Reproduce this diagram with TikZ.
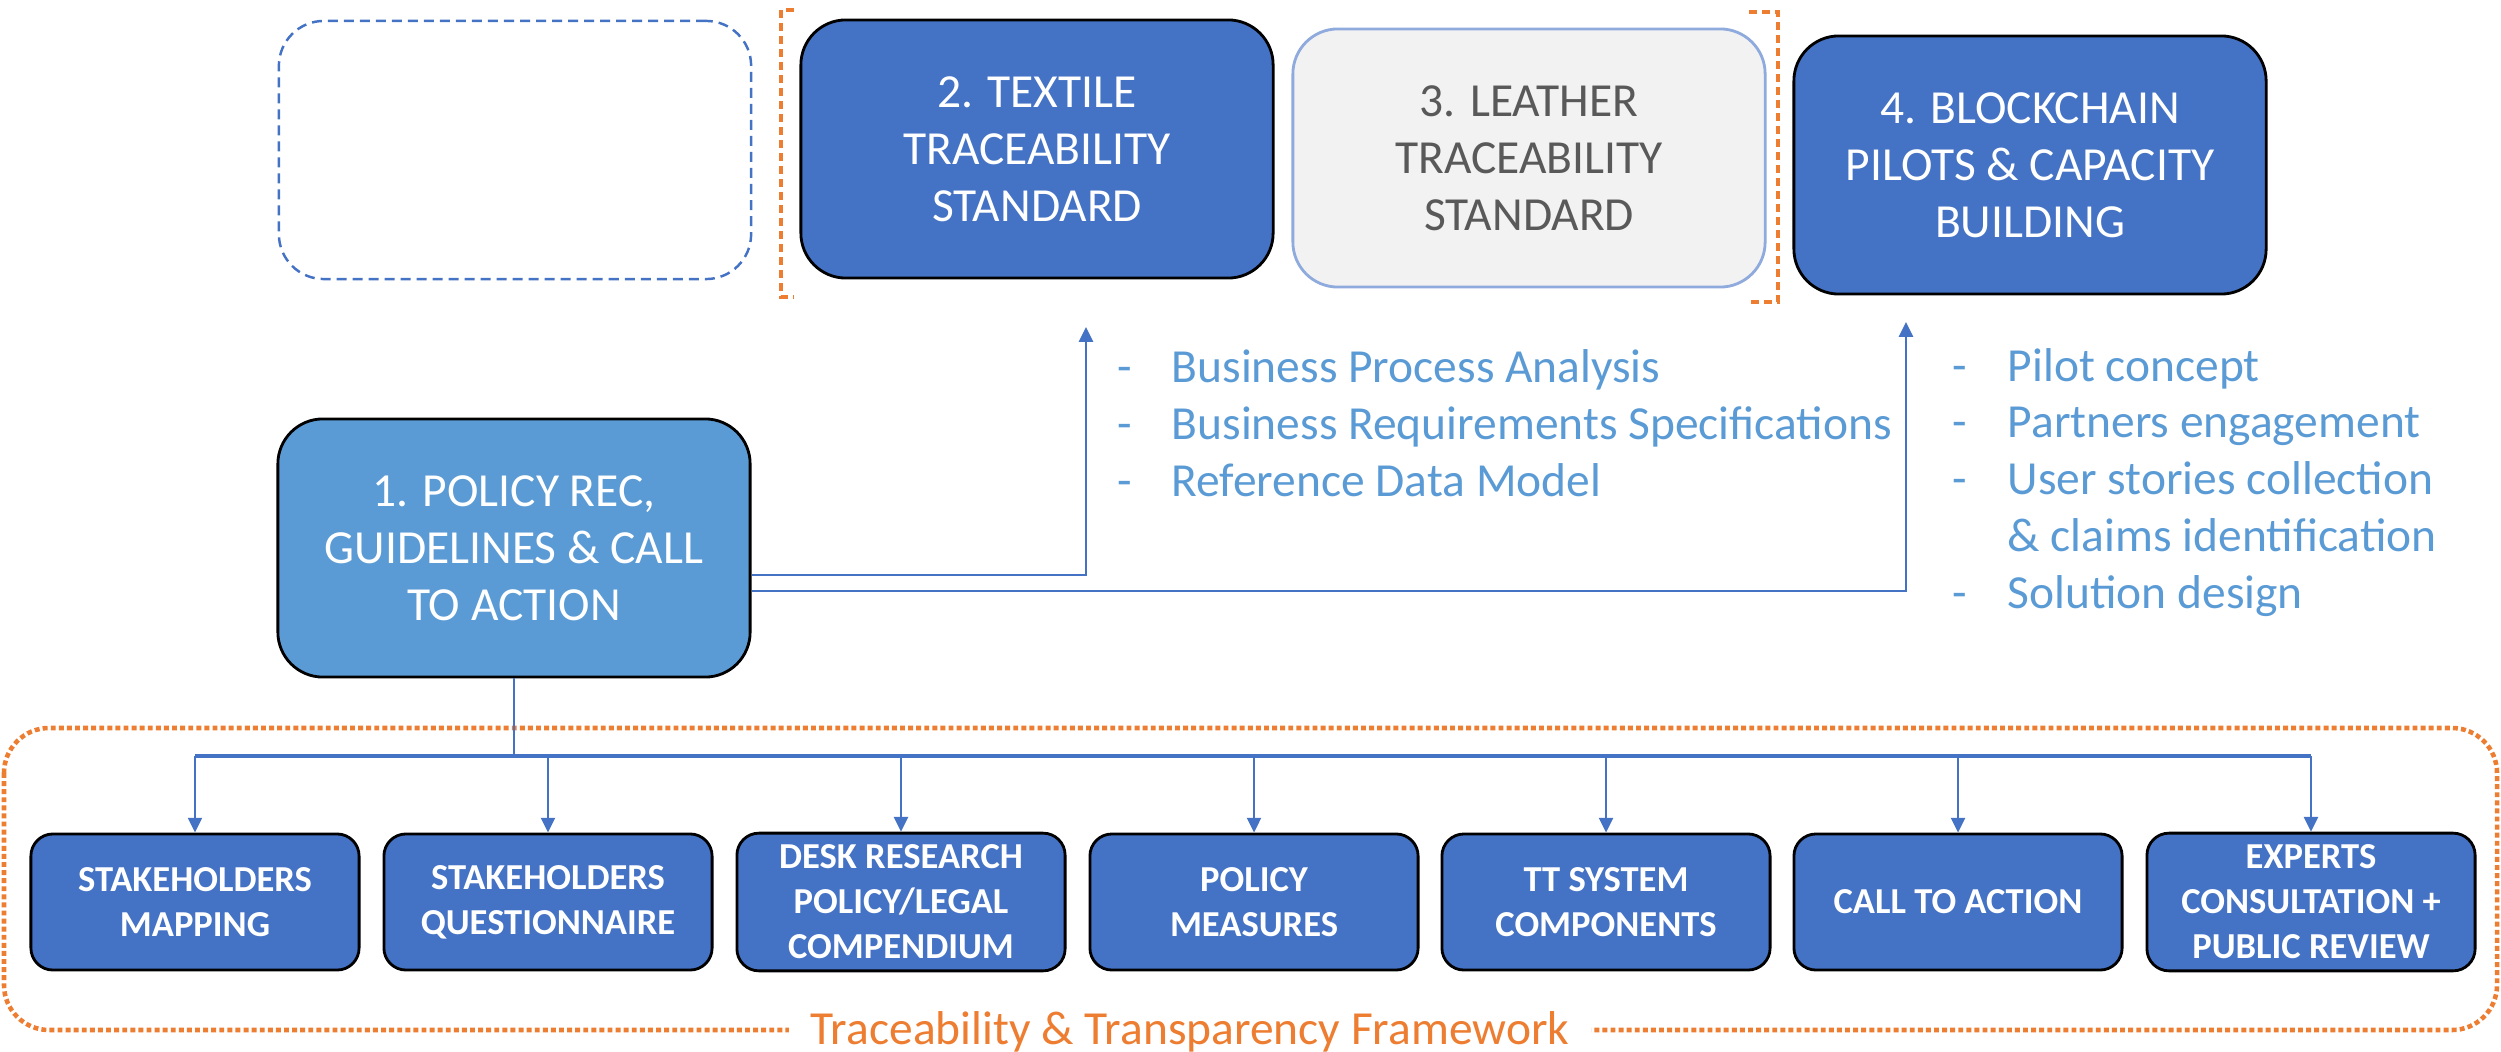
\documentclass[tikz,border=0pt]{standalone}
\usepackage{fontspec}
\setmainfont{Carlito}
\usetikzlibrary{arrows.meta}

\definecolor{navy}{HTML}{4472C4}
\definecolor{sky}{HTML}{5B9BD5}
\definecolor{tang}{HTML}{ED7D31}
\definecolor{paper}{HTML}{F2F2F2}
\definecolor{edge}{HTML}{8FAADC}
\definecolor{ink}{HTML}{595959}

\tikzset{
  stage/.style={rounded corners=0.45cm, minimum width=4.72cm, minimum height=2.58cm,
    align=center, font=\fontsize{13.5}{16.2}\selectfont, line width=0.8pt},
  task/.style={draw=black, fill=navy, text=white, rounded corners=0.22cm,
    minimum width=3.28cm, minimum height=1.36cm, align=center,
    font=\fontsize{10.4}{12.8}\selectfont\bfseries, line width=0.8pt},
  link/.style={draw=navy, line width=0.6pt},
  arr/.style={link, -{Triangle[length=4.2pt,width=4pt]}},
  bullets/.style={text=sky, font=\fontsize{13.5}{16.2}\selectfont, anchor=base west, inner sep=0pt},
  bracket/.style={tang, line width=1.1pt, dash pattern=on 0.08cm off 0.05cm},
}

\begin{document}
\begin{tikzpicture}[x=0.01cm,y=-0.01cm]
		\useasboundingbox (0,0) rectangle (2501,1052);
		% framework frame
		\draw[tang, line width=1.3pt, dash pattern=on 1.4pt off 0.9pt, rounded corners=0.45cm] (4,728) rectangle (2497,1030);
		\node[fill=white, text=tang, font=\fontsize{13.5}{16.2}\selectfont, inner xsep=0.22cm, inner ysep=0pt] (frame) at (1190,1032) {Traceability \& Transparency Framework};
		
		% top row
		\node[stage, draw=navy, line width=0.7pt, dash pattern=on 0.1cm off 0.06cm] (ghost) at (515,150) {};
		\node[stage, draw=black, fill=navy, text=white] (textile) at (1037,149) {2. TEXTILE\\TRACEABILITY\\STANDARD};
		\node[stage, draw=edge, fill=paper, text=ink] (leather) at (1529,158) {3. LEATHER\\TRACEABILITY\\STANDARD};
		\node[stage, draw=black, fill=navy, text=white] (chain) at (2030,165) {4. BLOCKCHAIN\\PILOTS \& CAPACITY\\BUILDING};
		\draw[bracket] (794,10) -- (781,10) -- (781,297) -- (794,297);
		\draw[bracket] (1749,12) -- (1778,12) -- (1778,302) -- (1749,302);
		
		% policy box and its two arrows up
		\node[stage, draw=black, fill=sky, text=white] (policy) at (514,548) {1. POLICY REC,\\GUIDELINES \& CALL\\TO ACTION};
		\coordinate (upA) at (1086,327);
		\coordinate (upB) at (1906,322);
		\draw[arr] ([yshift=-0.27cm]policy.east) -| (upA);
		\draw[arr] ([yshift=-0.43cm]policy.east) -| (upB);
		
		\node[bullets] (textilelist) at (1117,383) {\begin{tabular}[t]{@{}p{0.54cm}@{}l@{}}
			- & Business Process Analysis\\
			- & Business Requirements Specifications\\
			- & Reference Data Model
		\end{tabular}};
		\node[bullets] (chainlist) at (1952,381) {\begin{tabular}[t]{@{}p{0.55cm}@{}l@{}}
			- & Pilot concept\\
			- & Partners engagement\\
			- & User stories collection\\
			  & \& claims identification\\
			- & Solution design
		\end{tabular}};
		
		% framework tasks
		\node[task] (map) at (195,902) {STAKEHOLDERS\\MAPPING};
		\node[task] (quest) at (548,902) {STAKEHOLDERS\\QUESTIONNAIRE};
		\node[task] (desk) at (901,902) {DESK RESEARCH\\POLICY/LEGAL\\COMPENDIUM};
		\node[task] (measure) at (1254,902) {POLICY\\MEASURES};
		\node[task] (system) at (1606,902) {TT SYSTEM\\COMPONENTS};
		\node[task] (call) at (1958,902) {CALL TO ACTION};
		\node[task] (review) at (2311,902) {EXPERTS\\CONSULTATION +\\PUBLIC REVIEW};
		
		\coordinate (bus) at (514,756);
		\draw[link] (policy.south) -- (bus);
		\draw[link, line width=0.9pt] (map.north |- bus) -- (review.north |- bus);
		\foreach \n in {map,quest,desk,measure,system,call,review}
			\draw[arr] (\n.north |- bus) -- (\n.north);
	\end{tikzpicture}
\end{document}
